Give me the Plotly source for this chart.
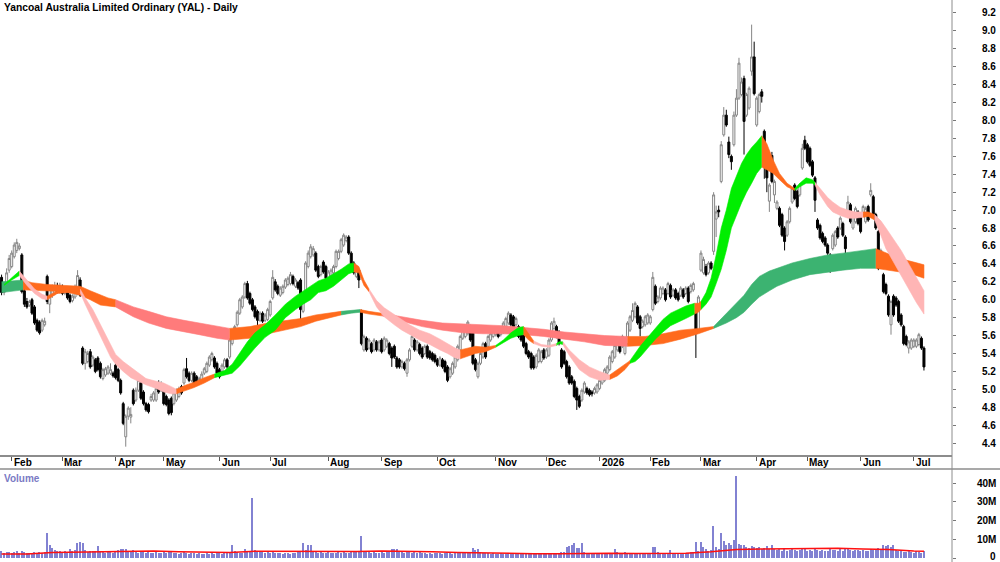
import pandas as pd
import plotly.graph_objects as go

TITLE = "Yancoal Australia Limited Ordinary (YAL) - Daily"
FIRST_SESSION = "2025-01-28"
ASX_HOLIDAYS = ["2025-04-18", "2025-04-21", "2025-04-25", "2025-06-09", "2025-12-25",
                "2025-12-26", "2026-01-01", "2026-01-26", "2026-04-03", "2026-04-06",
                "2026-06-08"]

# ---------------- daily OHLC (A$) ----------------
opens = [
    6.25, 6.08, 6.12, 6.33, 6.37, 6.48, 6.55, 6.57, 6.50, 6.10,
    5.98, 5.94, 6.00, 5.92, 5.77, 5.75, 5.66, 5.72, 6.26, 5.95,
    6.05, 6.07, 6.16, 6.09, 6.15, 6.07, 6.08, 6.05, 5.99, 6.03,
    6.07, 6.22, 5.46, 5.29, 5.31, 5.42, 5.27, 5.33, 5.35, 5.29,
    5.12, 5.16, 5.18, 5.18, 5.18, 5.27, 5.22, 5.10, 4.84, 4.47,
    4.70, 4.69, 4.99, 4.88, 4.99, 5.07, 4.97, 4.84, 4.83, 4.88,
    4.88, 4.88, 5.07, 4.99, 4.99, 4.92, 4.88, 4.90, 4.84, 4.88,
    4.92, 5.03, 5.07, 5.23, 5.18, 5.10, 5.18, 5.14, 5.07, 5.10,
    5.18, 5.20, 5.27, 5.33, 5.35, 5.29, 5.22, 5.20, 5.25, 5.33,
    5.36, 5.51, 5.59, 5.72, 5.85, 5.92, 6.03, 6.18, 6.07, 6.00,
    5.92, 5.87, 5.77, 5.85, 5.77, 5.78, 5.83, 6.02, 6.20, 6.15,
    6.05, 6.08, 6.14, 6.17, 6.18, 6.26, 6.15, 6.19, 6.22, 5.87,
    6.00, 6.37, 6.48, 6.50, 6.52, 6.37, 6.28, 6.42, 6.37, 6.22,
    6.26, 6.30, 6.37, 6.46, 6.54, 6.61, 6.66, 6.70, 6.52, 6.41,
    6.26, 6.33, 5.87, 5.44, 5.57, 5.46, 5.51, 5.44, 5.53, 5.44,
    5.55, 5.44, 5.48, 5.51, 5.46, 5.48, 5.35, 5.33, 5.25, 5.29,
    5.18, 5.33, 5.48, 5.55, 5.44, 5.50, 5.46, 5.40, 5.48, 5.42,
    5.40, 5.38, 5.33, 5.27, 5.33, 5.31, 5.25, 5.14, 5.18, 5.25,
    5.33, 5.44, 5.57, 5.59, 5.62, 5.70, 5.66, 5.33, 5.14, 5.29,
    5.36, 5.51, 5.48, 5.55, 5.59, 5.61, 5.66, 5.61, 5.64, 5.70,
    5.74, 5.83, 5.81, 5.72, 5.70, 5.66, 5.62, 5.51, 5.42, 5.40,
    5.36, 5.25, 5.31, 5.31, 5.44, 5.36, 5.38, 5.55, 5.68, 5.70,
    5.64, 5.44, 5.42, 5.31, 5.25, 5.14, 5.09, 5.01, 4.92, 4.88,
    4.97, 5.01, 4.99, 4.97, 4.96, 4.97, 5.01, 5.07, 5.10, 5.18,
    5.22, 5.31, 5.36, 5.44, 5.55, 5.48, 5.40, 5.51, 5.66, 5.77,
    5.81, 5.92, 5.81, 5.70, 5.72, 5.74, 5.74, 5.89, 6.15, 5.98,
    6.02, 6.07, 6.11, 6.07, 6.16, 6.05, 6.11, 6.07, 6.05, 6.11,
    6.07, 6.13, 6.09, 6.11, 5.85, 5.66, 6.33, 6.30, 6.37, 6.30,
    6.41, 6.54, 6.90, 7.00, 7.32, 7.84, 8.06, 7.76, 7.60, 7.73,
    8.06, 8.25, 8.29, 8.47, 8.06, 8.14, 8.55, 8.71, 7.95, 8.10,
    8.32, 7.88, 7.58, 7.10, 7.61, 7.17, 7.02, 7.02, 6.95, 6.80,
    6.72, 6.87, 7.09, 7.28, 7.21, 7.17, 7.47, 7.78, 7.73, 7.69,
    7.54, 7.36, 6.89, 6.83, 6.74, 6.69, 6.61, 6.50, 6.57, 6.61,
    6.80, 6.80, 6.85, 6.70, 6.95, 7.06, 6.80, 6.87, 6.98, 6.95,
    6.95, 6.87, 7.04, 7.17, 7.15, 6.95, 6.76, 6.46, 6.28, 6.17,
    6.04, 5.72, 6.04, 6.02, 5.98, 5.83, 5.70, 5.59, 5.46, 5.46,
    5.48, 5.48, 5.50, 5.57, 5.46,
]
highs = [
    6.28, 6.18, 6.35, 6.50, 6.55, 6.64, 6.68, 6.63, 6.52, 6.22,
    6.02, 6.00, 6.02, 5.94, 5.79, 5.77, 5.79, 5.80, 6.28, 6.15,
    6.17, 6.20, 6.19, 6.19, 6.17, 6.14, 6.10, 6.07, 6.06, 6.17,
    6.33, 6.25, 5.48, 5.45, 5.43, 5.45, 5.38, 5.35, 5.37, 5.31,
    5.24, 5.25, 5.27, 5.29, 5.20, 5.29, 5.24, 5.12, 4.86, 4.72,
    4.81, 4.80, 5.01, 5.02, 5.13, 5.09, 4.99, 4.86, 4.85, 4.95,
    4.98, 5.04, 5.10, 5.09, 5.01, 4.94, 4.90, 4.92, 4.98, 5.01,
    5.03, 5.05, 5.24, 5.35, 5.20, 5.20, 5.20, 5.16, 5.14, 5.20,
    5.25, 5.31, 5.38, 5.42, 5.37, 5.31, 5.24, 5.29, 5.35, 5.35,
    5.57, 5.65, 5.72, 5.88, 6.02, 6.05, 6.20, 6.21, 6.09, 6.02,
    5.94, 5.89, 5.87, 5.87, 5.85, 5.91, 6.00, 6.33, 6.23, 6.17,
    6.15, 6.17, 6.24, 6.26, 6.31, 6.28, 6.24, 6.21, 6.24, 6.02,
    6.43, 6.55, 6.62, 6.60, 6.54, 6.39, 6.39, 6.44, 6.39, 6.33,
    6.35, 6.39, 6.56, 6.56, 6.69, 6.74, 6.72, 6.72, 6.54, 6.43,
    6.37, 6.35, 5.89, 5.61, 5.59, 5.57, 5.53, 5.57, 5.55, 5.55,
    5.57, 5.59, 5.57, 5.53, 5.48, 5.50, 5.37, 5.35, 5.33, 5.31,
    5.35, 5.46, 5.62, 5.57, 5.55, 5.52, 5.48, 5.50, 5.50, 5.44,
    5.42, 5.40, 5.35, 5.37, 5.35, 5.33, 5.27, 5.25, 5.31, 5.38,
    5.50, 5.61, 5.70, 5.72, 5.77, 5.72, 5.68, 5.35, 5.31, 5.42,
    5.53, 5.53, 5.61, 5.64, 5.68, 5.70, 5.68, 5.70, 5.76, 5.81,
    5.87, 5.85, 5.83, 5.81, 5.72, 5.68, 5.64, 5.53, 5.44, 5.42,
    5.38, 5.40, 5.46, 5.44, 5.46, 5.46, 5.57, 5.76, 5.80, 5.72,
    5.66, 5.46, 5.44, 5.33, 5.27, 5.16, 5.11, 5.03, 4.94, 5.01,
    5.09, 5.03, 5.01, 4.99, 5.03, 5.07, 5.12, 5.16, 5.24, 5.27,
    5.38, 5.44, 5.51, 5.57, 5.57, 5.61, 5.57, 5.76, 5.83, 5.96,
    5.98, 5.94, 5.83, 5.78, 5.83, 5.85, 5.83, 6.31, 6.17, 6.05,
    6.15, 6.15, 6.13, 6.20, 6.18, 6.13, 6.13, 6.09, 6.15, 6.13,
    6.15, 6.15, 6.18, 6.20, 5.88, 6.05, 6.55, 6.48, 6.40, 6.43,
    6.43, 7.20, 7.05, 7.05, 7.77, 8.15, 8.12, 7.82, 7.62, 8.10,
    8.35, 8.70, 8.48, 8.50, 8.31, 8.38, 9.07, 8.88, 8.27, 8.31,
    8.35, 7.90, 7.62, 7.30, 7.65, 7.34, 7.11, 7.04, 6.97, 6.82,
    6.89, 7.04, 7.26, 7.30, 7.23, 7.30, 7.74, 7.83, 7.75, 7.71,
    7.56, 7.38, 6.91, 6.85, 6.76, 6.71, 6.63, 6.52, 6.74, 6.78,
    6.82, 6.93, 6.87, 6.72, 7.16, 7.08, 6.97, 7.04, 7.00, 6.97,
    7.06, 7.04, 7.06, 7.30, 7.17, 6.97, 6.78, 6.57, 6.30, 6.19,
    6.06, 6.00, 6.06, 6.04, 6.00, 5.85, 5.72, 5.61, 5.55, 5.57,
    5.57, 5.57, 5.63, 5.59, 5.48,
]
lows = [
    6.05, 6.05, 6.10, 6.30, 6.35, 6.46, 6.52, 6.55, 6.07, 5.92,
    5.90, 5.92, 5.83, 5.72, 5.64, 5.61, 5.64, 5.70, 5.95, 5.85,
    6.02, 6.05, 6.07, 6.07, 6.05, 6.05, 6.00, 5.96, 5.97, 6.01,
    6.05, 6.03, 5.27, 5.22, 5.29, 5.23, 5.25, 5.18, 5.20, 5.12,
    5.10, 5.14, 5.16, 5.16, 5.13, 5.11, 5.08, 4.94, 4.60, 4.36,
    4.66, 4.62, 4.82, 4.86, 4.97, 4.88, 4.82, 4.75, 4.73, 4.86,
    4.86, 4.86, 4.95, 4.97, 4.82, 4.81, 4.71, 4.71, 4.82, 4.86,
    4.90, 4.94, 5.05, 5.12, 5.08, 5.08, 5.03, 5.05, 5.05, 5.08,
    5.16, 5.18, 5.25, 5.31, 5.23, 5.16, 5.12, 5.18, 5.23, 5.23,
    5.34, 5.49, 5.57, 5.70, 5.83, 5.90, 6.01, 6.00, 5.94, 5.87,
    5.79, 5.70, 5.75, 5.74, 5.75, 5.76, 5.81, 6.00, 6.09, 6.05,
    6.03, 6.06, 6.12, 6.15, 6.16, 6.16, 6.13, 6.11, 5.72, 5.85,
    5.98, 6.35, 6.46, 6.48, 6.31, 6.24, 6.26, 6.29, 6.22, 6.20,
    6.24, 6.28, 6.35, 6.44, 6.52, 6.59, 6.64, 6.50, 6.35, 6.28,
    6.24, 6.13, 5.49, 5.42, 5.42, 5.44, 5.40, 5.42, 5.42, 5.42,
    5.40, 5.42, 5.46, 5.38, 5.25, 5.34, 5.23, 5.23, 5.23, 5.21,
    5.14, 5.31, 5.46, 5.42, 5.42, 5.38, 5.34, 5.38, 5.34, 5.33,
    5.31, 5.29, 5.25, 5.25, 5.23, 5.18, 5.08, 5.12, 5.16, 5.23,
    5.31, 5.42, 5.55, 5.57, 5.60, 5.53, 5.27, 5.20, 5.12, 5.27,
    5.34, 5.34, 5.46, 5.53, 5.57, 5.59, 5.57, 5.59, 5.62, 5.68,
    5.72, 5.70, 5.68, 5.70, 5.57, 5.53, 5.46, 5.38, 5.34, 5.22,
    5.22, 5.23, 5.29, 5.29, 5.33, 5.34, 5.36, 5.53, 5.66, 5.57,
    5.49, 5.23, 5.27, 5.12, 5.05, 5.05, 4.90, 4.77, 4.79, 4.86,
    4.95, 4.94, 4.92, 4.92, 4.94, 4.95, 4.99, 5.05, 5.08, 5.16,
    5.20, 5.29, 5.34, 5.42, 5.40, 5.46, 5.38, 5.49, 5.64, 5.75,
    5.79, 5.72, 5.59, 5.68, 5.70, 5.72, 5.72, 5.87, 5.94, 5.96,
    6.00, 6.05, 5.98, 6.05, 6.01, 6.03, 6.00, 5.98, 6.03, 6.01,
    6.05, 5.96, 6.07, 6.09, 5.35, 5.64, 6.31, 6.28, 6.26, 6.28,
    6.33, 6.50, 6.70, 6.92, 7.30, 7.82, 7.93, 7.58, 7.45, 7.71,
    8.04, 8.23, 8.27, 7.62, 8.04, 8.12, 8.50, 8.28, 7.93, 8.08,
    8.20, 7.35, 7.20, 6.98, 7.30, 7.08, 7.00, 6.81, 6.70, 6.55,
    6.70, 6.85, 7.07, 7.11, 7.02, 7.15, 7.45, 7.67, 7.52, 7.48,
    7.37, 6.98, 6.78, 6.67, 6.63, 6.59, 6.50, 6.30, 6.55, 6.59,
    6.68, 6.78, 6.70, 6.45, 6.93, 6.85, 6.78, 6.85, 6.83, 6.74,
    6.93, 6.85, 6.87, 7.15, 6.93, 6.78, 6.33, 6.44, 6.07, 6.05,
    5.81, 5.61, 5.81, 5.92, 5.74, 5.70, 5.49, 5.48, 5.40, 5.44,
    5.46, 5.46, 5.48, 5.44, 5.21,
]
closes = [
    6.08, 6.15, 6.30, 6.46, 6.52, 6.61, 6.64, 6.60, 6.09, 5.95,
    5.92, 5.98, 5.85, 5.74, 5.66, 5.63, 5.77, 5.76, 5.98, 6.13,
    6.13, 6.16, 6.09, 6.16, 6.07, 6.11, 6.02, 5.98, 6.04, 6.15,
    6.27, 6.05, 5.29, 5.42, 5.40, 5.25, 5.36, 5.20, 5.22, 5.14,
    5.22, 5.23, 5.25, 5.22, 5.15, 5.13, 5.10, 4.96, 4.62, 4.70,
    4.79, 4.72, 4.84, 4.99, 5.10, 4.90, 4.84, 4.77, 4.75, 4.92,
    4.96, 5.01, 4.97, 5.07, 4.84, 4.83, 4.73, 4.74, 4.96, 4.99,
    5.01, 4.96, 5.22, 5.14, 5.10, 5.18, 5.05, 5.07, 5.12, 5.17,
    5.23, 5.29, 5.36, 5.40, 5.25, 5.18, 5.14, 5.27, 5.33, 5.25,
    5.55, 5.62, 5.70, 5.86, 6.00, 6.03, 6.18, 6.02, 5.96, 5.89,
    5.81, 5.77, 5.85, 5.76, 5.83, 5.89, 5.98, 6.25, 6.11, 6.07,
    6.13, 6.15, 6.22, 6.24, 6.28, 6.18, 6.22, 6.13, 5.89, 6.00,
    6.41, 6.52, 6.59, 6.57, 6.33, 6.26, 6.37, 6.31, 6.24, 6.31,
    6.33, 6.37, 6.54, 6.54, 6.67, 6.72, 6.70, 6.52, 6.37, 6.30,
    6.35, 6.22, 5.51, 5.59, 5.44, 5.55, 5.42, 5.55, 5.44, 5.53,
    5.42, 5.57, 5.55, 5.40, 5.35, 5.36, 5.25, 5.25, 5.31, 5.23,
    5.33, 5.44, 5.59, 5.44, 5.53, 5.40, 5.36, 5.48, 5.36, 5.35,
    5.33, 5.31, 5.27, 5.35, 5.25, 5.20, 5.10, 5.23, 5.29, 5.36,
    5.48, 5.59, 5.68, 5.70, 5.75, 5.55, 5.29, 5.22, 5.29, 5.40,
    5.51, 5.36, 5.59, 5.62, 5.66, 5.68, 5.59, 5.68, 5.74, 5.79,
    5.85, 5.72, 5.70, 5.79, 5.59, 5.55, 5.48, 5.40, 5.36, 5.24,
    5.24, 5.38, 5.44, 5.42, 5.35, 5.44, 5.55, 5.74, 5.76, 5.59,
    5.51, 5.25, 5.29, 5.14, 5.07, 5.07, 4.92, 4.88, 4.81, 4.99,
    5.07, 4.96, 4.94, 4.95, 5.01, 5.05, 5.10, 5.14, 5.22, 5.25,
    5.36, 5.42, 5.49, 5.55, 5.42, 5.59, 5.55, 5.74, 5.81, 5.88,
    5.96, 5.74, 5.68, 5.76, 5.81, 5.83, 5.81, 6.25, 5.96, 6.03,
    6.13, 6.13, 6.00, 6.18, 6.03, 6.11, 6.02, 6.00, 6.13, 6.03,
    6.13, 5.98, 6.16, 6.18, 5.63, 6.03, 6.52, 6.45, 6.28, 6.41,
    6.35, 7.17, 6.98, 6.98, 7.73, 8.06, 7.95, 7.62, 7.54, 8.06,
    8.25, 8.64, 8.43, 7.99, 8.29, 8.36, 8.71, 8.30, 8.25, 8.29,
    8.27, 7.50, 7.36, 7.28, 7.32, 7.32, 7.09, 6.83, 6.72, 6.65,
    6.87, 7.02, 7.24, 7.13, 7.04, 7.28, 7.69, 7.69, 7.54, 7.50,
    7.39, 7.11, 6.80, 6.69, 6.65, 6.61, 6.52, 6.43, 6.72, 6.76,
    6.70, 6.91, 6.72, 6.57, 7.09, 6.87, 6.95, 7.02, 6.85, 6.76,
    7.04, 7.02, 6.89, 7.22, 6.95, 6.80, 6.35, 6.55, 6.09, 6.07,
    5.83, 5.98, 5.83, 5.94, 5.76, 5.72, 5.51, 5.50, 5.53, 5.55,
    5.55, 5.55, 5.61, 5.46, 5.25,
]

# ---------------- daily volume (millions of shares) ----------------
volume_m = [
    3.5, 2.8, 3.0, 3.2, 2.6, 3.1, 4.0, 2.9, 3.8, 3.0,
    2.5, 2.7, 2.4, 3.1, 2.8, 3.3, 2.6, 3.4, 13.2, 7.0,
    5.5, 4.2, 3.6, 4.0, 3.2, 3.8, 3.0, 5.0, 3.6, 4.5,
    7.9, 8.8, 7.9, 4.5, 3.3, 3.8, 3.5, 4.0, 6.4, 3.9,
    3.2, 2.9, 3.6, 3.1, 2.7, 3.4, 4.2, 5.0, 4.6, 4.8,
    3.9, 3.5, 4.1, 3.0, 2.8, 3.6, 3.3, 2.9, 3.1, 2.7,
    2.6, 3.0, 2.8, 2.5, 3.2, 2.9, 3.4, 3.0, 2.6, 2.8,
    2.4, 2.7, 3.1, 2.9, 2.3, 2.5, 2.8, 2.2, 2.6, 2.4,
    2.1, 2.5, 2.3, 2.7, 2.4, 2.9, 2.6, 2.2, 2.5, 2.8,
    3.4, 7.0, 3.8, 3.1, 2.9, 2.6, 5.0, 3.2, 3.6, 32.0,
    4.2, 3.5, 3.9, 3.0, 2.7, 3.3, 2.9, 3.6, 2.8, 2.5,
    2.7, 2.4, 2.9, 2.6, 2.3, 2.8, 2.5, 3.1, 3.4, 8.2,
    4.5, 7.0, 7.2, 3.6, 3.0, 2.8, 3.3, 2.9, 2.6, 3.1,
    2.7, 2.5, 2.9, 3.2, 2.8, 3.0, 2.6, 2.9, 3.1, 3.4,
    3.0, 3.6, 11.8, 4.0, 3.5, 3.2, 2.9, 3.3, 2.8, 2.6,
    3.0, 2.7, 3.4, 3.1, 4.6, 5.0, 4.8, 3.5, 3.2, 2.9,
    3.6, 3.1, 2.8, 3.3, 2.6, 3.0, 2.5, 2.8, 2.4, 2.7,
    2.3, 2.6, 2.9, 2.5, 2.2, 2.8, 3.1, 2.6, 2.4, 2.7,
    2.5, 2.9, 2.6, 3.0, 2.8, 3.4, 5.2, 4.1, 5.0, 3.2,
    2.8, 2.5, 2.7, 2.3, 2.6, 2.4, 2.2, 2.5, 2.1, 2.4,
    2.8, 2.3, 2.6, 2.2, 2.0, 2.4, 2.1, 2.3, 1.9, 2.2,
    2.0, 2.5, 2.3, 2.1, 2.6, 2.4, 2.2, 2.7, 2.5, 2.3,
    2.9, 3.1, 3.4, 6.0, 6.3, 7.0, 7.8, 5.2, 5.5, 8.2,
    3.0, 2.6, 2.8, 2.2, 1.9, 2.4, 2.1, 2.3, 2.6, 2.2,
    2.5, 2.8, 5.0, 3.1, 2.7, 2.4, 3.2, 2.9, 2.6, 2.3,
    2.7, 2.5, 2.9, 2.4, 2.6, 2.3, 2.8, 6.1, 6.0, 3.0,
    2.7, 2.4, 2.9, 2.6, 4.1, 2.8, 2.5, 2.3, 2.7, 2.5,
    2.9, 2.6, 3.4, 3.0, 8.8, 4.0, 8.8, 6.0, 5.0, 3.6,
    4.2, 17.0, 6.0, 5.0, 13.6, 9.0, 7.0, 8.2, 7.0, 9.6,
    43.5, 7.5, 7.0, 7.2, 6.0, 5.5, 6.5, 5.8, 5.2, 6.0,
    4.8, 5.5, 6.2, 4.6, 7.0, 5.0, 4.2, 4.7, 4.0, 5.2,
    3.8, 4.4, 4.9, 4.1, 3.7, 4.5, 5.0, 4.6, 4.0, 4.3,
    3.9, 4.7, 4.2, 3.6, 4.4, 4.0, 3.8, 5.4, 4.5, 4.1,
    3.7, 4.6, 4.0, 4.8, 5.2, 4.3, 3.9, 4.4, 4.1, 3.8,
    4.5, 4.0, 3.7, 5.0, 4.2, 4.6, 5.5, 4.1, 7.2, 6.4,
    7.1, 5.9, 7.0, 4.3, 3.6, 3.9, 3.4, 3.0, 3.6, 3.2,
    2.8, 3.5, 3.1, 2.9, 4.0,
]
# volume moving average (millions), read every 10 sessions, plus last session
vol_ma_m = [2.2, 2.2, 2.9, 3.1, 3.6, 3.7, 3.7, 3.3, 2.9, 2.9,
            3.6, 3.5, 3.4, 3.5, 3.5, 3.7, 3.7, 3.3, 2.9, 2.6,
            2.4, 2.3, 2.3, 2.6, 2.6, 2.4, 2.5, 2.6, 3.4, 4.6,
            4.8, 5.0, 5.2, 5.2, 4.8, 4.6, 3.7, 3.6]
VOL_MA_STEP = 10

# ---------------- moving-average ribbons (session number, upper, lower, colour code) ----------------
fast_session = [1, 4, 7, 10, 13, 16, 18, 22, 26, 31, 33, 36, 39, 43, 45, 48, 51, 53, 57, 61,
                64, 67, 69, 72, 76, 80, 84, 88, 91, 94, 97, 100, 104, 108, 112, 116, 119, 122, 125, 128,
                131, 134, 137, 139, 141, 143, 145, 148, 151, 155, 158, 161, 165, 169, 173, 176, 179, 181, 184, 187,
                191, 195, 198, 201, 204, 206, 208, 210, 213, 216, 219, 220, 221.5, 224, 228, 232, 236, 240, 243, 246,
                248, 250, 252, 255, 258, 261, 264, 267, 270, 273.5, 275, 276, 278, 280, 282, 284, 286, 288, 290, 292,
                294, 296, 298, 300, 302, 304.5, 307, 310, 313, 315, 317.5, 320, 321, 323, 326, 328, 331, 334, 337, 340,
                342, 344.5, 347, 349, 352, 355, 358, 361, 364]
fast_upper = [6.17, 6.25, 6.32, 6.22, 6.12, 6.06, 6.04, 6.10, 6.11, 6.12, 6.02, 5.89, 5.72, 5.51, 5.39, 5.31, 5.25, 5.20, 5.12, 5.09,
              5.07, 5.03, 5.00, 5.04, 5.08, 5.13, 5.17, 5.21, 5.28, 5.40, 5.53, 5.63, 5.72, 5.83, 5.95, 6.04, 6.10, 6.16, 6.21, 6.24,
              6.29, 6.34, 6.40, 6.41, 6.37, 6.22, 6.12, 5.99, 5.91, 5.83, 5.77, 5.72, 5.66, 5.62, 5.56, 5.51, 5.46, 5.44, 5.46, 5.48,
              5.47, 5.49, 5.55, 5.63, 5.69, 5.70, 5.62, 5.54, 5.50, 5.49, 5.51, 5.53, 5.53, 5.44, 5.33, 5.25, 5.20, 5.16, 5.22, 5.28,
              5.32, 5.40, 5.48, 5.58, 5.68, 5.78, 5.85, 5.89, 5.93, 5.96, 5.96, 5.98, 6.08, 6.24, 6.50, 6.80, 7.00, 7.24, 7.38, 7.52,
              7.62, 7.70, 7.76, 7.83, 7.74, 7.56, 7.41, 7.30, 7.24, 7.30, 7.36, 7.34, 7.31, 7.24, 7.14, 7.09, 7.03, 7.00, 6.98, 6.98,
              6.98, 6.95, 6.88, 6.80, 6.68, 6.55, 6.40, 6.25, 6.10]
fast_lower = [6.16, 6.22, 6.27, 6.16, 6.07, 6.01, 6.00, 6.07, 6.08, 6.08, 5.95, 5.78, 5.59, 5.36, 5.28, 5.20, 5.13, 5.10, 5.05, 5.01,
              4.97, 4.95, 4.95, 4.98, 5.02, 5.07, 5.13, 5.16, 5.18, 5.26, 5.36, 5.46, 5.58, 5.66, 5.80, 5.89, 5.95, 6.00, 6.08, 6.10,
              6.15, 6.22, 6.29, 6.31, 6.30, 6.16, 6.09, 5.92, 5.81, 5.72, 5.66, 5.61, 5.55, 5.50, 5.44, 5.40, 5.35, 5.34, 5.37, 5.40,
              5.42, 5.47, 5.52, 5.57, 5.60, 5.61, 5.55, 5.51, 5.48, 5.47, 5.49, 5.51, 5.50, 5.38, 5.22, 5.14, 5.10, 5.11, 5.15, 5.22,
              5.29, 5.31, 5.36, 5.46, 5.56, 5.64, 5.71, 5.75, 5.79, 5.84, 5.86, 5.89, 5.95, 6.03, 6.18, 6.34, 6.55, 6.80, 6.95, 7.08,
              7.20, 7.30, 7.41, 7.48, 7.45, 7.41, 7.34, 7.26, 7.22, 7.26, 7.30, 7.30, 7.28, 7.17, 7.04, 6.98, 6.94, 6.91, 6.91, 6.92,
              6.93, 6.89, 6.72, 6.57, 6.42, 6.27, 6.12, 5.97, 5.84]
fast_color = ("GG" "PPPP" "OOO" "PPPPPPPPPPPPP" "OOOO" "GGGGGGGGGGGGGGGGG" "OOO" "PPPPPPPPPPP"
              "OOOO" "GGGG" "OO" "PPP" "GG" "PPPPP" "OOO" "GGGGGGGGG" "OO" "GGGGGGGGGGGG"
              "OOOOO" "GGGG" "PPPPPPP" "OO" "PPPPPPPP")

slow_session = [0, 4, 8.5, 12, 18, 25, 31, 35, 39, 42, 45, 52, 58, 65, 72, 78, 85, 90, 98, 105,
                111, 118, 124, 131, 134, 138, 141.5, 145, 150, 158, 166, 174, 182, 190, 198, 206, 214, 222, 230, 238,
                247, 254, 261, 268, 275, 281, 286, 290, 293, 296, 299, 303, 306, 312, 319, 326, 332, 339, 345, 349,
                354.5, 360, 364]
slow_upper = [6.20, 6.21, 6.22, 6.19, 6.17, 6.16, 6.15, 6.10, 6.05, 6.02, 6.00, 5.92, 5.87, 5.81, 5.77, 5.74, 5.70, 5.68, 5.70, 5.74,
              5.76, 5.79, 5.83, 5.86, 5.87, 5.88, 5.89, 5.87, 5.85, 5.81, 5.77, 5.74, 5.73, 5.72, 5.71, 5.69, 5.67, 5.64, 5.62, 5.60,
              5.59, 5.59, 5.62, 5.66, 5.68, 5.70, 5.85, 5.97, 6.05, 6.17, 6.26, 6.32, 6.35, 6.41, 6.46, 6.50, 6.52, 6.55, 6.57, 6.52,
              6.46, 6.42, 6.39]
slow_lower = [6.08, 6.09, 6.11, 6.11, 6.10, 6.09, 6.05, 6.00, 5.94, 5.93, 5.92, 5.81, 5.74, 5.68, 5.64, 5.61, 5.57, 5.55, 5.57, 5.62,
              5.66, 5.70, 5.76, 5.81, 5.83, 5.85, 5.86, 5.84, 5.82, 5.76, 5.70, 5.66, 5.63, 5.62, 5.62, 5.61, 5.59, 5.56, 5.53, 5.49,
              5.48, 5.49, 5.51, 5.56, 5.62, 5.68, 5.74, 5.80, 5.86, 5.95, 6.03, 6.10, 6.15, 6.22, 6.28, 6.31, 6.33, 6.35, 6.35, 6.33,
              6.31, 6.28, 6.24]
slow_color = ("DD" "OOOOOOOO" "SSSSSSS" "OOOOOOO" "DD" "OO" "SSSSSSSSSSSS" "OOOOO" "DDDDDDDDDDDDD" "OOOOO")

RIBBON_COLORS = {"G": "#00EE00", "P": "#FFB5B5", "O": "#FF6A1C", "D": "#3CB371", "S": "#FF7B7B"}

price_ticks = [4.4, 4.6, 4.8, 5.0, 5.2, 5.4, 5.6, 5.8, 6.0, 6.2, 6.4, 6.6, 6.8, 7.0,
               7.2, 7.4, 7.6, 7.8, 8.0, 8.2, 8.4, 8.6, 8.8, 9.0, 9.2]
volume_ticks_m = [0, 10, 20, 30, 40]
volume_tick_text = ["0", "10M", "20M", "30M", "40M"]

# ---------------- build ----------------
n = min(len(opens), len(highs), len(lows), len(closes), len(volume_m))
sessions = list(range(n))
dates = pd.bdate_range(start=FIRST_SESSION, periods=n, freq="C", holidays=ASX_HOLIDAYS)
month_idx = [i for i in range(1, n) if dates[i].month != dates[i - 1].month]
month_lbl = [str(dates[i].year) if dates[i].month == 1 else dates[i].strftime("%b") for i in month_idx]

FONT = "Liberation Sans, Arial, sans-serif"
fig = go.Figure()


def add_ribbon(sess, up, lo, codes):
    m = len(sess)
    i = 0
    while i < m - 1:
        c = codes[i]
        j = i
        while j < m - 1 and codes[j] == c:
            j += 1
        xs = list(sess[i:j + 1])
        ys_up = list(up[i:j + 1])
        ys_lo = list(lo[i:j + 1])
        col = RIBBON_COLORS[c]
        fig.add_trace(go.Scatter(x=xs + xs[::-1], y=ys_up + ys_lo[::-1], fill="toself",
                                 fillcolor=col, mode="lines", line=dict(color=col, width=0.6),
                                 hoverinfo="skip", showlegend=False, xaxis="x", yaxis="y"))
        i = j


add_ribbon(slow_session, slow_upper, slow_lower, slow_color)
add_ribbon(fast_session, fast_upper, fast_lower, fast_color)

fig.add_trace(go.Candlestick(
    x=sessions, open=opens[:n], high=highs[:n], low=lows[:n], close=closes[:n],
    increasing=dict(line=dict(color="#858585", width=1), fillcolor="#ffffff"),
    decreasing=dict(line=dict(color="#000000", width=1), fillcolor="#000000"),
    whiskerwidth=0, showlegend=False, xaxis="x", yaxis="y"))

fig.add_trace(go.Bar(x=sessions, y=[v * 1e6 for v in volume_m[:n]], width=0.5,
                     marker=dict(color="#8282D2", line=dict(width=0)),
                     showlegend=False, xaxis="x2", yaxis="y2"))
ma_x = list(range(0, n, VOL_MA_STEP))
if ma_x[-1] != n - 1:
    ma_x.append(n - 1)
fig.add_trace(go.Scatter(x=ma_x, y=[v * 1e6 for v in vol_ma_m[:len(ma_x)]], mode="lines",
                         line=dict(color="#FF1010", width=1.5), showlegend=False,
                         xaxis="x2", yaxis="y2"))

W, H = 1000, 562
X_RIGHT = 952 / W
PRICE_BOTTOM = 1 - 455 / H
VOL_TOP = (H - 470) / H
xr = [-0.62, 375.07]

fig.update_layout(
    width=W, height=H, margin=dict(l=0, r=0, t=0, b=0),
    paper_bgcolor="white", plot_bgcolor="white", bargap=0,
    boxgap=0.22, boxgroupgap=0,
    font=dict(family=FONT, size=10, color="black"),
    xaxis=dict(domain=[0, X_RIGHT], range=xr, anchor="y", showgrid=False, zeroline=False,
               showticklabels=False, tickmode="array", tickvals=month_idx, ticks="outside",
               ticklen=4, tickwidth=1, tickcolor="#555555", showline=True,
               linecolor="#8c8c8c", linewidth=2, rangeslider=dict(visible=False)),
    yaxis=dict(domain=[PRICE_BOTTOM, 1], range=[4.267, 9.345], anchor="x", side="right",
               showgrid=False, zeroline=False, showticklabels=False, tickmode="array",
               tickvals=price_ticks, ticks="outside", ticklen=3, tickcolor="#777777"),
    xaxis2=dict(domain=[0, X_RIGHT], range=xr, anchor="y2", matches="x", showgrid=False,
                zeroline=False, showticklabels=False, showline=False),
    yaxis2=dict(domain=[0, VOL_TOP], range=[-2.13e6, 46.93e6], anchor="x2", side="right",
                showgrid=False, zeroline=False, showticklabels=False, tickmode="array",
                tickvals=[v * 1e6 for v in volume_ticks_m], ticks="outside", ticklen=3,
                tickcolor="#777777"),
    shapes=[
        dict(type="line", xref="paper", yref="paper", x0=X_RIGHT, x1=X_RIGHT, y0=0, y1=1,
             line=dict(color="#8c8c8c", width=1)),
        dict(type="line", xref="paper", yref="paper", x0=0, x1=1, y0=1 - 469 / H, y1=1 - 469 / H,
             line=dict(color="#8c8c8c", width=1.5)),
    ],
)

ann = [dict(text="<b>%s</b>" % TITLE, x=0.002, y=1 - 8 / H, xref="paper", yref="paper",
            xanchor="left", yanchor="middle", showarrow=False,
            font=dict(family=FONT, size=10.3, color="black")),
       dict(text="<b>Volume</b>", x=0.002, y=1 - 478 / H, xref="paper", yref="paper",
            xanchor="left", yanchor="middle", showarrow=False,
            font=dict(family=FONT, size=10, color="#7A7AC4"))]
for i, lbl in zip(month_idx, month_lbl):
    ann.append(dict(text="<b>%s</b>" % lbl, x=i, y=1 - 462.5 / H, xref="x", yref="paper",
                    xanchor="left", yanchor="middle", xshift=0, showarrow=False,
                    font=dict(family=FONT, size=10, color="black")))
for p in price_ticks:
    ann.append(dict(text="<b>%.1f</b>" % p, x=0.998, y=p, xref="paper", yref="y",
                    xanchor="right", yanchor="middle", showarrow=False,
                    font=dict(family=FONT, size=10, color="black")))
for v, t in zip(volume_ticks_m, volume_tick_text):
    ann.append(dict(text="<b>%s</b>" % t, x=0.998, y=v * 1e6, xref="paper", yref="y2",
                    xanchor="right", yanchor="middle", showarrow=False,
                    yshift=2 if v == 0 else 0,
                    font=dict(family=FONT, size=10, color="black")))
fig.update_layout(annotations=ann)

fig.write_html("out.html")
